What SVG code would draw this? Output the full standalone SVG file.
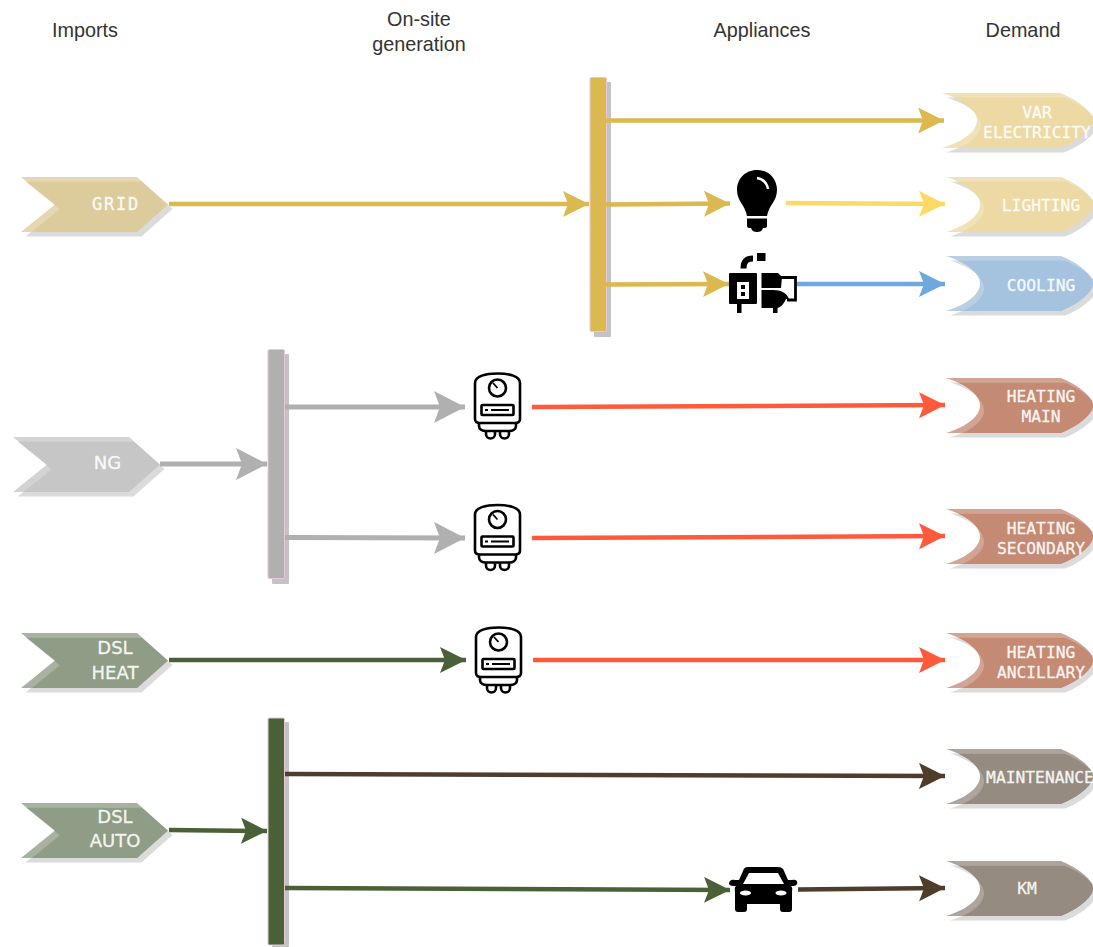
<svg xmlns="http://www.w3.org/2000/svg" width="1093" height="947" viewBox="0 0 1093 947">
<style>
.hdr{font:19.800px "Liberation Sans",Arial,sans-serif;fill:#333;text-anchor:middle}
.dem{font:16.300px "DejaVu Sans Mono",monospace;fill:#fff;fill-opacity:.9;stroke:#fff;stroke-width:.35;stroke-opacity:.8;text-anchor:middle}
.imp{font:18px "DejaVu Sans",sans-serif;fill:#fff;fill-opacity:.9;stroke:#fff;stroke-width:.35;stroke-opacity:.8;text-anchor:middle}
.grid{font:17px "DejaVu Sans Mono",monospace;fill:#fff;fill-opacity:.9;stroke:#fff;stroke-width:.35;stroke-opacity:.8;text-anchor:middle;letter-spacing:1.800px}
.c{fill:none;stroke-width:4.500}
.g{stroke-width:5}
.shadow{fill:#000;fill-opacity:.14}
.bar{stroke:#e6c8d6;stroke-width:1}
.barshadow{fill:#c4c2c4}
.wh{fill:#fff}
.ic{fill:#000}
</style>
<defs>
<path id="src" d="M0 0H116L147 27.500L116 55H0L34 27.500Z"/>
<path id="dem" d="M0 0H115C130 6 147 18 147 27.500C147 37 130 49 115 55H0C22 48 34 38 34 27.500C34 17 22 7 0 0Z"/>
<clipPath id="srcClip"><use href="#src"/></clipPath>
<clipPath id="demClip"><use href="#dem"/></clipPath>
<g id="srcShape">
<use href="#src" class="shadow" transform="translate(4.500 4.500)"/>
<use href="#src" fill-opacity=".78"/>
<g clip-path="url(#srcClip)"><use href="#src" transform="translate(5 5)"/></g>
</g>
<g id="demShape">
<use href="#dem" class="shadow" transform="translate(4 4.500)"/>
<use href="#dem" fill-opacity=".78"/>
<g clip-path="url(#demClip)"><use href="#dem" transform="translate(4 5)"/></g>
</g>
<marker id="mGold" markerUnits="userSpaceOnUse" markerWidth="28" markerHeight="28" refX="26" refY="13" orient="auto"><path d="M0 0L26 13L0 26L5 13Z" fill="#dcb950"/></marker>
<marker id="mYel" markerUnits="userSpaceOnUse" markerWidth="28" markerHeight="28" refX="26" refY="13" orient="auto"><path d="M0 0L26 13L0 26L5 13Z" fill="#ffd966"/></marker>
<marker id="mBlue" markerUnits="userSpaceOnUse" markerWidth="28" markerHeight="28" refX="26" refY="13" orient="auto"><path d="M0 0L26 13L0 26L5 13Z" fill="#6fa8dc"/></marker>
<marker id="mRed" markerUnits="userSpaceOnUse" markerWidth="28" markerHeight="28" refX="26" refY="13" orient="auto"><path d="M0 0L26 13L0 26L5 13Z" fill="#ff5a3c"/></marker>
<marker id="mBrown" markerUnits="userSpaceOnUse" markerWidth="28" markerHeight="28" refX="26" refY="13" orient="auto"><path d="M0 0L26 13L0 26L5 13Z" fill="#4f3d2c"/></marker>
<marker id="mGreen" markerUnits="userSpaceOnUse" markerWidth="28" markerHeight="28" refX="26" refY="13" orient="auto"><path d="M0 0L26 13L0 26L5 13Z" fill="#4a6138"/></marker>
<marker id="mGray" markerUnits="userSpaceOnUse" markerWidth="34" markerHeight="34" refX="31" refY="16" orient="auto"><path d="M0 0L31 16L0 32L6 16Z" fill="#b0b0b0"/></marker>
<g id="boiler">
<path d="M2 47V11C2 4 13 1.500 24.500 1.500C36 1.500 47 4 47 11V47C47 50 45 51 42 51H7C4 51 2 50 2 47Z" fill="#fff" stroke="#000" stroke-width="2.600"/>
<circle cx="24.500" cy="16" r="8.500" fill="#fff" stroke="#000" stroke-width="2.600"/>
<path d="M24.500 16L20 11" stroke="#000" stroke-width="1.800"/>
<rect x="8.500" y="33" width="32" height="10" rx="1" fill="#fff" stroke="#000" stroke-width="2.600"/>
<path d="M12 38h3M18 38h18" stroke="#000" stroke-width="2"/>
<path d="M6 51V54C6 57 9 59 13 59H36C40 59 43 57 43 54V51" fill="none" stroke="#000" stroke-width="2.600"/>
<path d="M13 59V62C13 68 22 68 22 62V59M27 59V62C27 68 36 68 36 62V59" fill="none" stroke="#000" stroke-width="2.600"/>
</g>
</defs>

<rect width="1093" height="947" fill="#fff"/>

<g id="headers">
<text class="hdr" x="85" y="37">Imports</text>
<text class="hdr" x="419" y="26">On-site</text>
<text class="hdr" x="419" y="51">generation</text>
<text class="hdr" x="762" y="37">Appliances</text>
<text class="hdr" x="1023" y="37">Demand</text>
</g>

<g id="imports">
<g id="node-grid"><use href="#srcShape" fill="#ddcc9b" x="21" y="177"/><text class="grid" x="116" y="210">GRID</text></g>
<g id="node-ng"><use href="#srcShape" fill="#c6c6c6" x="13" y="437"/><text class="imp" x="107.500" y="469">NG</text></g>
<g id="node-dsl-heat"><use href="#srcShape" fill="#8f9c86" x="21" y="633"/><text class="imp" x="115" y="654">DSL</text><text class="imp" x="115" y="679">HEAT</text></g>
<g id="node-dsl-auto"><use href="#srcShape" fill="#8f9c86" x="21" y="803"/><text class="imp" x="115" y="823">DSL</text><text class="imp" x="115" y="847">AUTO</text></g>
</g>

<g id="demand">
<g id="node-var"><use href="#demShape" fill="#ecd9a3" transform="translate(942 93) scale(1.027 1)"/><text class="dem" x="1037" y="118">VAR</text><text class="dem" x="1037" y="138">ELECTRICITY</text></g>
<g id="node-lighting"><use href="#demShape" fill="#ecd9a3" x="946" y="177"/><text class="dem" x="1041" y="211">LIGHTING</text></g>
<g id="node-cooling"><use href="#demShape" fill="#a5c2de" x="946" y="256"/><text class="dem" x="1041" y="291">COOLING</text></g>
<g id="node-heating-main"><use href="#demShape" fill="#c48a74" x="946" y="378"/><text class="dem" x="1041" y="402">HEATING</text><text class="dem" x="1041" y="422">MAIN</text></g>
<g id="node-heating-secondary"><use href="#demShape" fill="#c48a74" x="946" y="509"/><text class="dem" x="1041" y="534">HEATING</text><text class="dem" x="1041" y="554">SECONDARY</text></g>
<g id="node-heating-ancillary"><use href="#demShape" fill="#c48a74" x="946" y="633"/><text class="dem" x="1041" y="658">HEATING</text><text class="dem" x="1041" y="678">ANCILLARY</text></g>
<g id="node-maintenance"><use href="#demShape" fill="#968b80" x="946" y="749"/><text class="dem" x="1040" y="783">MAINTENANCE</text></g>
<g id="node-km"><use href="#demShape" fill="#968b80" x="946" y="861"/><text class="dem" x="1027" y="894">KM</text></g>
</g>

<g id="buses">
<g id="bus-elec"><rect class="barshadow" x="594" y="82" width="17" height="255" rx="1"/><rect class="bar" x="590" y="77.500" width="16.500" height="254" rx="1.500" fill="#dcb950"/></g>
<g id="bus-ng"><rect class="barshadow" x="272" y="354" width="17" height="230" rx="1"/><rect class="bar" x="268" y="349.500" width="16.500" height="229" rx="1.500" fill="#b0b0b0"/></g>
<g id="bus-dsl"><rect class="barshadow" x="272" y="722" width="17" height="225" rx="1"/><rect class="bar" x="268" y="718" width="16.500" height="227" rx="1.500" fill="#4a6138"/></g>
</g>

<g id="connectors">
<path class="c" stroke="#dcb950" marker-end="url(#mGold)" d="M606 120.500H944"/>
<path class="c" stroke="#dcb950" marker-end="url(#mGold)" d="M169 204H589"/>
<path class="c" stroke="#dcb950" marker-end="url(#mGold)" d="M606 204.500L730 203.500"/>
<path class="c" stroke="#dcb950" marker-end="url(#mGold)" d="M606 284.500L729 284"/>
<path class="c" stroke="#ffd966" marker-end="url(#mYel)" d="M786 203L945 204"/>
<path class="c" stroke="#6fa8dc" marker-end="url(#mBlue)" d="M797 284H945"/>
<path class="c g" stroke="#b0b0b0" marker-end="url(#mGray)" d="M160 464H267"/>
<path class="c g" stroke="#b0b0b0" marker-end="url(#mGray)" d="M285 407H465"/>
<path class="c g" stroke="#b0b0b0" marker-end="url(#mGray)" d="M285 537.500L465 538"/>
<path class="c" stroke="#ff5a3c" marker-end="url(#mRed)" d="M532 407L945 405"/>
<path class="c" stroke="#ff5a3c" marker-end="url(#mRed)" d="M532 538L945 536"/>
<path class="c" stroke="#ff5a3c" marker-end="url(#mRed)" d="M533 660H945"/>
<path class="c" stroke="#4a6138" marker-end="url(#mGreen)" d="M169 660H466"/>
<path class="c" stroke="#4a6138" marker-end="url(#mGreen)" d="M169 830L267 831"/>
<path class="c" stroke="#4f3d2c" marker-end="url(#mBrown)" d="M285 774L945 776"/>
<path class="c" stroke="#4a6138" marker-end="url(#mGreen)" d="M285 888L730 890"/>
<path class="c" stroke="#4f3d2c" marker-end="url(#mBrown)" d="M798 889.500L945 888"/>
</g>

<g id="appliances">
<g id="icon-bulb">
<path class="ic" d="M757 170C745 170 737 179 737 190C737 201 745 205 747 216H767C769 205 777 201 777 190C777 179 769 170 757 170Z"/>
<path class="ic" d="M747 218.500H767V226C767 228 765 228 763 228C762 231 760 232 757 232C754 232 752 231 751 228C749 228 747 228 747 226Z"/>
<path d="M757 178C763 179 767 183 768 189" fill="none" stroke="#fff" stroke-width="2.500"/>
</g>
<g id="icon-compressor">
<rect class="ic" x="729" y="273" width="28" height="31" rx="1"/>
<rect class="wh" x="737" y="282" width="12" height="17"/>
<rect class="ic" x="741" y="285" width="4" height="4"/><rect class="ic" x="741" y="292" width="4" height="4"/>
<rect class="ic" x="737" y="304" width="4.500" height="9"/><rect class="ic" x="773" y="304" width="4.500" height="9"/>
<path d="M743.500 268.500C743.500 261 747 258.500 753 258.500" fill="none" stroke="#000" stroke-width="6"/>
<rect class="ic" x="757" y="253" width="8.500" height="8"/>
<path class="ic" d="M761.500 273H778L782 277L781 288H761.500Z"/>
<path class="ic" d="M761.500 290H773C781 290 787 293 789 299H786C784 304 780 308 777 308H761.500Z"/>
<path d="M780 277.500H795.500V300H787" fill="none" stroke="#000" stroke-width="2.800"/>
</g>
<g id="icon-boiler-1"><use href="#boiler" x="473" y="372"/></g>
<g id="icon-boiler-2"><use href="#boiler" x="473" y="503.500"/></g>
<g id="icon-boiler-3"><use href="#boiler" x="474" y="626"/></g>
<g id="icon-car">
<path class="ic" d="M748 867H778C781 867 783 868 784 871L788 880H792C796 879 798 881 797 884C796 886 794 886 791 886C793 888 792 890 792 892V909C792 911 791 912 789 912H783C781 912 780 911 780 909V904H747V909C747 911 746 912 744 912H738C736 912 735 911 735 909V892C735 890 734 888 736 886C733 886 730 886 729 884C729 881 731 879 735 880H739L743 871C744 868 745 867 748 867Z"/>
<path class="wh" d="M749 873H778L784 884H743Z"/>
<ellipse class="wh" cx="745.500" cy="893" rx="5.500" ry="2.500"/>
<ellipse class="wh" cx="781" cy="893" rx="5.500" ry="2.500"/>
</g>
</g>
</svg>
